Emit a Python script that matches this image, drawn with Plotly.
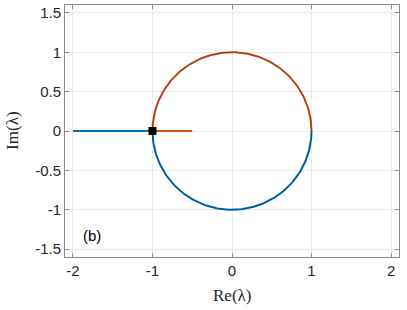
import numpy as np
import plotly.graph_objects as go

# Branch 1 (blue): real segment and lower unit semicircle
blue_real_x = [-2.0, -1.0]
blue_real_y = [0.0, 0.0]
blue_arc_deg = [180.0, 360.0]   # lower half of unit circle
# Branch 2 (orange): real segment and upper unit semicircle
orange_real_x = [-1.0, -0.5]
orange_real_y = [0.0, 0.0]
orange_arc_deg = [0.0, 180.0]   # upper half of unit circle
radius = 1.0
# Marked point
star_x = [-1.0]
star_y = [0.0]

x_ticks = [-2, -1, 0, 1, 2]
y_ticks = [-1.5, -1, -0.5, 0, 0.5, 1, 1.5]
y_ticklabels = ["-1.5", "-1", "-0.5", "0", "0.5", "1", "1.5"]

BLUE = "#0072BD"
ORANGE = "#D95319"


def arc(deg_range):
    t = np.deg2rad(np.linspace(deg_range[0], deg_range[1], 200))
    return radius * np.cos(t), radius * np.sin(t)


fig = go.Figure()
bx, by = arc(blue_arc_deg)
ox, oy = arc(orange_arc_deg)
fig.add_trace(go.Scatter(x=blue_real_x, y=blue_real_y, mode="lines",
                         line=dict(color=BLUE, width=2)))
fig.add_trace(go.Scatter(x=bx, y=by, mode="lines", line=dict(color=BLUE, width=2)))
fig.add_trace(go.Scatter(x=orange_real_x, y=orange_real_y, mode="lines",
                         line=dict(color=ORANGE, width=2)))
fig.add_trace(go.Scatter(x=ox, y=oy, mode="lines", line=dict(color=ORANGE, width=2)))
# thin dark core line along circle
cx = np.concatenate([ox, bx])
cy = np.concatenate([oy, by])
fig.add_trace(go.Scatter(x=cx, y=cy, mode="lines",
                         line=dict(color="rgba(0,0,0,0.45)", width=0.7)))
fig.add_trace(go.Scatter(x=star_x, y=star_y, mode="markers",
                         marker=dict(symbol="square", size=8, color="black")))

fig.add_annotation(x=-1.9, y=-1.33, text="(b)", showarrow=False, xanchor="left",
                   font=dict(family="Liberation Sans, Arial", size=15, color="black"))

serif = dict(family="Liberation Serif, DejaVu Serif", size=17, color="#262626")
fig.add_annotation(xref="paper", yref="paper", x=0.5, y=-0.151, text="Re(λ)",
                   showarrow=False, xanchor="center", yanchor="middle", font=serif)
fig.add_annotation(xref="paper", yref="paper", x=-0.159, y=0.5, text="Im(λ)",
                   showarrow=False, xanchor="center", yanchor="middle", textangle=-90,
                   font=serif)

axis_common = dict(showline=True, linecolor="#8a8a8a", linewidth=1, mirror="ticks",
                   ticks="inside", ticklen=4, tickcolor="#8a8a8a",
                   showgrid=True, gridcolor="#ebebeb", gridwidth=1, zeroline=False,
                   automargin=False,
                   tickfont=dict(family="Liberation Sans, Arial", size=15, color="#262626"))

fig.update_layout(
    width=407, height=310,
    margin=dict(l=65, r=8, t=5, b=53),
    paper_bgcolor="white", plot_bgcolor="white",
    showlegend=False,
    xaxis=dict(range=[-2.1, 2.1], tickvals=x_ticks, ticktext=[str(v) for v in x_ticks],
               **axis_common),
    yaxis=dict(range=[-1.6, 1.6], tickvals=y_ticks, ticktext=y_ticklabels,
               **axis_common),
)

fig.write_html("out.html", config={"displayModeBar": False},
               post_script="document.body.style.margin='0';")
